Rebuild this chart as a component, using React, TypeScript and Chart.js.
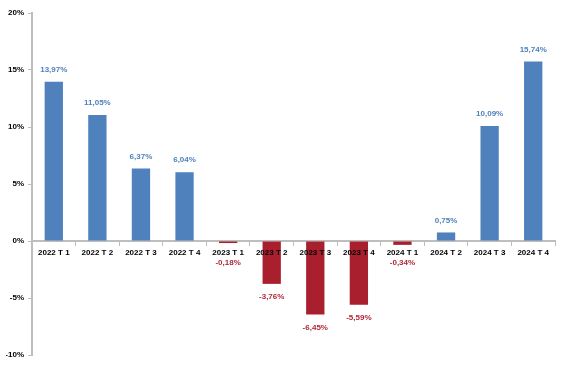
import React, { useEffect, useRef } from "react";
import { Chart, registerables } from "chart.js";

Chart.register(...registerables);

const categories = [
  "2022 T 1", "2022 T 2", "2022 T 3", "2022 T 4",
  "2023 T 1", "2023 T 2", "2023 T 3", "2023 T 4",
  "2024 T 1", "2024 T 2", "2024 T 3", "2024 T 4",
];
const values = [13.97, 11.05, 6.37, 6.04, -0.18, -3.76, -6.45, -5.59, -0.34, 0.75, 10.09, 15.74];
const yTicks = [-10, -5, 0, 5, 10, 15, 20];

const BLUE = "#4F81BD";
const RED = "#A91F2E";
const BLUE_TXT = "#4F81BD";
const RED_TXT = "#B0283A";
const AXIS = "#BEBEBE";
const FONT = "'Liberation Sans', Arial, sans-serif";

const fmt = (v: number) => v.toFixed(2).replace(".", ",") + "%";

const labelPlugin = {
  id: "barLabels",
  afterDatasetsDraw(chart: any) {
    const ctx = chart.ctx;
    const meta = chart.getDatasetMeta(0);
    const xs = chart.scales.x;
    const zeroY = chart.scales.y.getPixelForValue(0);
    ctx.save();
    ctx.font = `bold 8px ${FONT}`;
    ctx.textAlign = "center";
    ctx.textBaseline = "middle";
    categories.forEach((c, i) => {
      ctx.fillStyle = "#000";
      ctx.fillText(c, xs.getPixelForValue(i), zeroY + 12);
    });
    meta.data.forEach((bar: any, i: number) => {
      const v = values[i];
      if (v >= 0) {
        ctx.fillStyle = BLUE_TXT;
        ctx.fillText(fmt(v), bar.x, bar.y - 12);
      } else {
        ctx.fillStyle = RED_TXT;
        const y = Math.max(bar.y + 13, zeroY + 22);
        ctx.fillText(fmt(v), bar.x, y);
      }
    });
    ctx.restore();
  },
};

export default function App() {
  const ref = useRef<HTMLCanvasElement | null>(null);
  useEffect(() => {
    if (!ref.current) return;
    const chart = new Chart(ref.current, {
      type: "bar",
      data: {
        labels: categories,
        datasets: [
          {
            data: values,
            backgroundColor: values.map((v) => (v >= 0 ? BLUE : RED)),
            barPercentage: 0.42,
            categoryPercentage: 1,
          },
        ],
      },
      options: {
        animation: false,
        responsive: false,
        devicePixelRatio: 1,
        layout: { padding: { left: 6, right: 7, top: 13, bottom: 13 } },
        plugins: { legend: { display: false }, tooltip: { enabled: false } },
        scales: {
          x: {
            position: { y: 0 } as any,
            grid: {
              display: true,
              offset: true,
              drawOnChartArea: false,
              drawTicks: true,
              tickLength: 4,
              color: AXIS,
            },
            border: { display: true, color: AXIS, width: 2 },
            ticks: { display: false },
          },
          y: {
            min: -10,
            max: 20,
            afterBuildTicks: (s: any) => {
              s.ticks = yTicks.map((v) => ({ value: v }));
            },
            afterFit: (s: any) => {
              s.width = 26;
            },
            grid: {
              display: true,
              drawOnChartArea: false,
              drawTicks: true,
              tickLength: 4,
              color: AXIS,
            },
            border: { display: true, color: AXIS, width: 2 },
            ticks: {
              color: "#000",
              font: { family: FONT, size: 8, weight: "bold" },
              padding: 4,
              callback: (v: any) => v + "%",
            },
          },
        },
      },
      plugins: [labelPlugin],
    });
    return () => chart.destroy();
  }, []);
  return (
    <div style={{ position: "fixed", left: 0, top: 0, width: 562, height: 368, background: "#fff" }}>
      <canvas ref={ref} width={562} height={368} style={{ width: 562, height: 368 }} />
    </div>
  );
}
